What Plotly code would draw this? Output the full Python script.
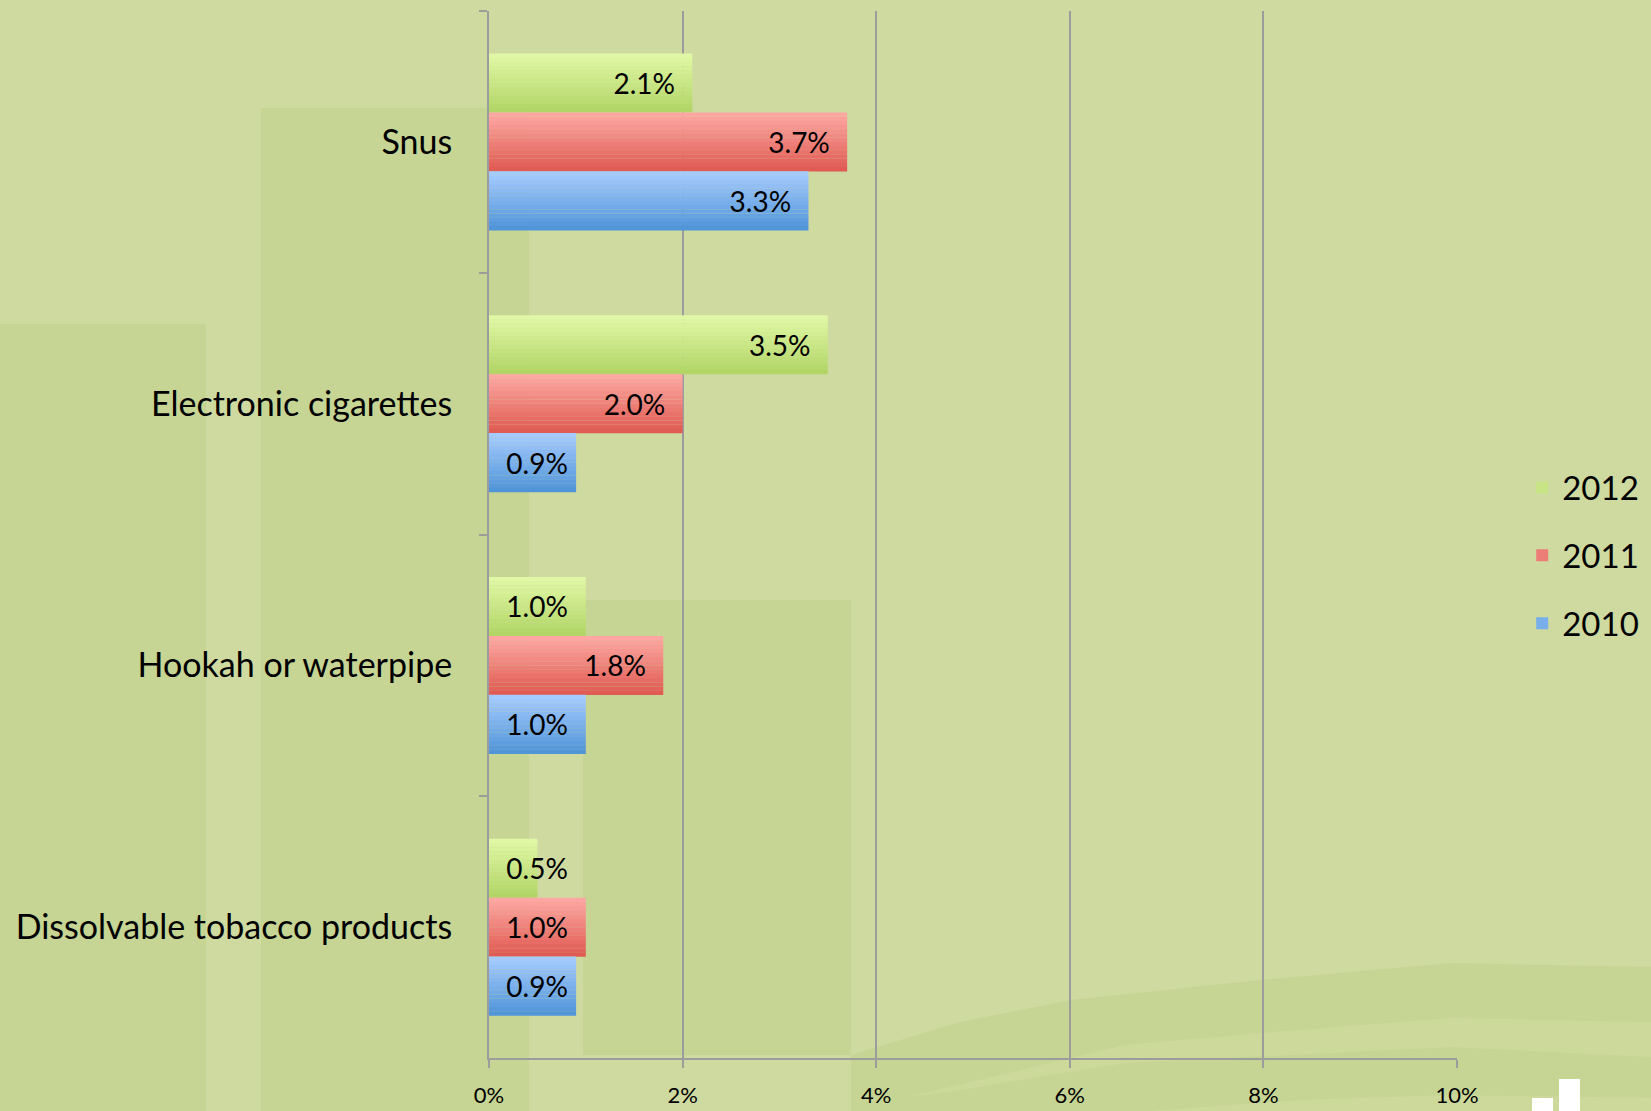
import plotly.graph_objects as go

W, H = 1651, 1111

categories = ["Snus", "Electronic cigarettes", "Hookah or waterpipe", "Dissolvable tobacco products"]
years = ["2012", "2011", "2010"]
values_2012 = [2.1, 3.5, 1.0, 0.5]
values_2011 = [3.7, 2.0, 1.8, 1.0]
values_2010 = [3.3, 0.9, 1.0, 0.9]
x_ticks = [0, 2, 4, 6, 8, 10]
x_tick_labels = ["0%", "2%", "4%", "6%", "8%", "10%"]

series = {"2012": values_2012, "2011": values_2011, "2010": values_2010}
# vertical gradient of each bar: (top colour, bottom colour)
gradients = {
    "2012": ((226, 249, 168), (176, 212, 100)),
    "2011": ((255, 170, 165), (222, 88, 80)),
    "2010": ((168, 205, 255), (78, 147, 216)),
}

BASE = "#CFDAA0"
DARK = "#C6D593"
FONT = "Lato, 'Open Sans', sans-serif"
NB = "\u00a0"
SMALL = 1.5  # labels on shorter bars sit at the bar start (as in Excel)
THICK = 0.225  # bar thickness in category units
GROUP_TOP = -0.3375
STRIPS = 14


def px(x):
    return x / W


def py(y):
    return 1 - y / H


def mix(c0, c1, t):
    r, g, b = (round(a + (bb - a) * t) for a, bb in zip(c0, c1))
    return f"rgb({r},{g},{b})"


fig = go.Figure()

for j, yr in enumerate(years):
    vals = series[yr]
    top = GROUP_TOP + j * THICK
    c_top, c_bot = gradients[yr]
    for k in range(STRIPS):
        fig.add_trace(go.Bar(
            y=categories,
            x=vals,
            name=yr,
            orientation="h",
            legendgroup=yr,
            showlegend=(k == STRIPS // 2),
            offset=top + k * THICK / STRIPS,
            width=THICK / STRIPS * 1.04,
            marker=dict(color=mix(c_top, c_bot, (k + 0.5) / STRIPS), line=dict(width=0)),
            hoverinfo="skip",
        ))
    # labels on the full bar (end-anchored for long bars)
    fig.add_trace(go.Bar(
        y=categories,
        x=vals,
        name=yr,
        orientation="h",
        legendgroup=yr,
        showlegend=False,
        offset=top,
        width=THICK,
        marker=dict(color="rgba(0,0,0,0)", line=dict(width=0)),
        text=[f"{v:.1f}%{NB * 2}" if v >= SMALL else "" for v in vals],
        textposition="inside",
        insidetextanchor="end",
        textangle=0,
        constraintext="none",
        cliponaxis=False,
        textfont=dict(family=FONT, size=28, color="black"),
        hoverinfo="skip",
    ))
    # short bars: label starts at the bar base
    fig.add_trace(go.Bar(
        y=categories,
        x=vals,
        name=yr,
        orientation="h",
        legendgroup=yr,
        showlegend=False,
        offset=top,
        width=THICK,
        marker=dict(color="rgba(0,0,0,0)", line=dict(width=0)),
        text=[f"{NB * 2}{v:.1f}%" if v < SMALL else "" for v in vals],
        textposition="inside",
        insidetextanchor="start",
        textangle=0,
        constraintext="none",
        cliponaxis=False,
        textfont=dict(family=FONT, size=28, color="black"),
        hoverinfo="skip",
    ))

# background panels
shapes = []
for x0, y0, x1, y1 in [(0, 324, 206, H), (261, 108, 529, H), (583, 600, 851, 1055)]:
    shapes.append(dict(type="rect", xref="paper", yref="paper",
                       x0=px(x0), x1=px(x1), y0=py(y1), y1=py(y0),
                       fillcolor=DARK, line=dict(width=0), layer="below"))


def path_from(points):
    return "M " + " L ".join(f"{px(a):.5f},{py(b):.5f}" for a, b in points) + " Z"


swoosh = [(851, 1055), (960, 1022), (1071, 1000), (1261, 980), (1451, 963),
          (1651, 967), (1651, H), (851, H)]
shapes.append(dict(type="path", xref="paper", yref="paper", path=path_from(swoosh),
                   fillcolor=DARK, line=dict(width=0), layer="below"))
band = [(908, 1097), (1125, 1045), (1261, 1033), (1451, 1018), (1651, 1022),
        (1651, 1057), (1451, 1047), (1125, 1063), (960, 1090)]
shapes.append(dict(type="path", xref="paper", yref="paper", path=path_from(band),
                   fillcolor="#CCD99B", line=dict(width=0), layer="below"))
band2 = [(1150, H), (1300, 1100), (1451, 1095), (1651, 1098), (1651, H)]
shapes.append(dict(type="path", xref="paper", yref="paper", path=path_from(band2),
                   fillcolor="#CCD99B", line=dict(width=0), layer="below"))
# small white icon bottom right
for x0, y0, x1, y1 in [(1532, 1098, 1553, H), (1559, 1079, 1580, H)]:
    shapes.append(dict(type="rect", xref="paper", yref="paper",
                       x0=px(x0), x1=px(x1), y0=py(y1), y1=py(y0),
                       fillcolor="white", line=dict(width=0), layer="below"))

x_left, x_right = 489, 1457
y_top, y_bottom = 11, 1058

fig.update_layout(
    width=W,
    height=H,
    barmode="overlay",
    paper_bgcolor=BASE,
    plot_bgcolor="rgba(0,0,0,0)",
    margin=dict(l=0, r=0, t=0, b=0, autoexpand=False),
    shapes=shapes,
    font=dict(family=FONT, color="black"),
    showlegend=True,
    legend=dict(
        x=0.922, y=0.5, xanchor="left", yanchor="middle",
        font=dict(family=FONT, size=33, color="black"),
        bgcolor="rgba(0,0,0,0)",
        tracegroupgap=22,
        traceorder="grouped",
        itemwidth=30,
    ),
    xaxis=dict(
        domain=[px(x_left), px(x_right)],
        range=[0, 10],
        tickvals=x_ticks,
        ticktext=x_tick_labels,
        showgrid=True,
        gridcolor="#9C9C9C",
        gridwidth=1.5,
        zeroline=False,
        showline=True,
        linecolor="#9C9C9C",
        linewidth=2,
        ticks="outside",
        ticklen=8,
        tickcolor="#9C9C9C",
        tickwidth=1.5,
        tickfont=dict(family=FONT, size=22, color="black"),
        ticklabelstandoff=9,
        fixedrange=True,
    ),
    yaxis=dict(
        domain=[py(y_bottom), py(y_top)],
        autorange="reversed",
        showline=True,
        linecolor="#9C9C9C",
        linewidth=2,
        ticks="outside",
        tickson="boundaries",
        ticklen=8,
        tickcolor="#9C9C9C",
        tickwidth=1.5,
        showgrid=False,
        tickfont=dict(family=FONT, size=34, color="black"),
        ticklabelstandoff=28,
        fixedrange=True,
    ),
)

fig.write_html("out.html", config={"displayModeBar": False},
               post_script="document.body.style.margin='0';")
